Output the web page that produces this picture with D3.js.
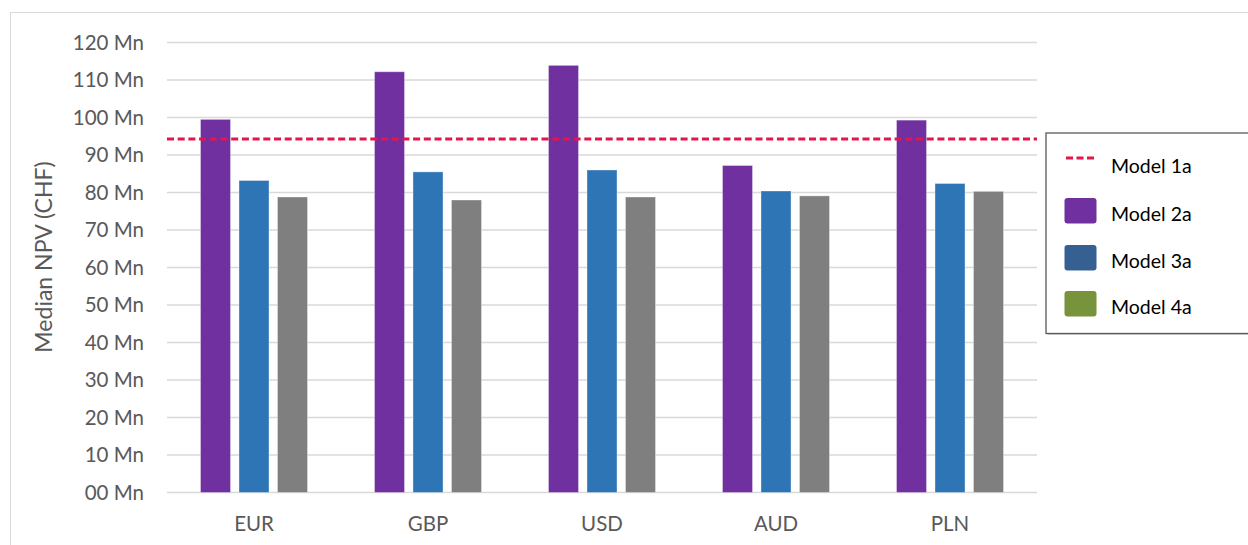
<!DOCTYPE html>
<html>
<head>
<meta charset="utf-8">
<script src="https://cdn.jsdelivr.net/npm/d3@7/dist/d3.min.js"></script>
<style>
  html, body { margin: 0; padding: 0; background: #fff; }
  svg { display: block; }
  text { font-family: Lato, "Open Sans", sans-serif; }
</style>
</head>
<body>
<svg id="chart" width="1248" height="545"></svg>
<script>
// Median NPV per currency, in CHF millions
const currencies = ["EUR", "GBP", "USD", "AUD", "PLN"];
const seriesNames = ["Model 2a", "Model 3a", "Model 4a"];
const model2a = [99.5, 112.2, 113.9, 87.2, 99.3];
const model3a = [83.2, 85.5, 86.0, 80.4, 82.4];
const model4a = [78.8, 78.0, 78.8, 79.1, 80.3];
const model1aLevel = 94.3;
const yTicks = [0, 10, 20, 30, 40, 50, 60, 70, 80, 90, 100, 110, 120];
const legendNames = ["Model 1a", "Model 2a", "Model 3a", "Model 4a"];

const barColors = ["#7030A0", "#2E75B6", "#7F7F7F"];
const legendColors = ["#7030A0", "#376092", "#77933C"];
const lineColor = "#E2164D";

const seriesValues = [model2a, model3a, model4a];

const svg = d3.select("#chart");

// Outer chart frame
svg.append("rect")
  .attr("x", 10.5).attr("y", 12.5)
  .attr("width", 1300).attr("height", 600)
  .attr("fill", "none").attr("stroke", "#D9D9D9").attr("stroke-width", 1);

const plot = { left: 167, right: 1037, top: 42.5, bottom: 492.5 };

const y = d3.scaleLinear().domain([0, 120]).range([plot.bottom, plot.top]);
const x0 = d3.scaleBand().domain(currencies)
  .range([plot.left, plot.right])
  .paddingInner(0.385).paddingOuter(0.1925);
const x1 = d3.scaleBand().domain(seriesNames)
  .range([0, x0.bandwidth()])
  .paddingInner(0.22);

// Horizontal gridlines
svg.append("g").selectAll("line").data(yTicks).join("line")
  .attr("x1", plot.left).attr("x2", plot.right)
  .attr("y1", d => y(d)).attr("y2", d => y(d))
  .attr("stroke", "#D9D9D9").attr("stroke-width", 1.5);

// Y axis labels
const yAxis = d3.axisLeft(y).tickValues(yTicks)
  .tickFormat(d => d3.format("02d")(d) + " Mn")
  .tickSize(0).tickPadding(0);
const gy = svg.append("g").attr("transform", "translate(144,0)").call(yAxis);
gy.select(".domain").remove();
gy.selectAll("text")
  .attr("fill", "#595959")
  .style("font-size", "20.5px")
  .style("font-family", "Lato, sans-serif");

// Y axis title
svg.append("text")
  .attr("transform", "translate(52,257) rotate(-90)")
  .attr("text-anchor", "middle")
  .attr("fill", "#595959")
  .style("font-size", "23px")
  .text("Median NPV (CHF)");

// Category labels
const xAxis = d3.axisBottom(x0).tickSize(0).tickPadding(0);
const gx = svg.append("g").attr("transform", `translate(0,${plot.bottom})`).call(xAxis);
gx.select(".domain").remove();
gx.selectAll("text")
  .attr("dy", 0).attr("y", 38)
  .attr("fill", "#595959")
  .style("font-size", "20.5px")
  .style("font-family", "Lato, sans-serif");

// Bars
const barData = currencies.flatMap((c, i) =>
  seriesNames.map((s, j) => ({ cur: c, series: s, idx: j, value: seriesValues[j][i] })));

svg.append("g").selectAll("rect").data(barData).join("rect")
  .attr("x", d => x0(d.cur) + x1(d.series))
  .attr("y", d => y(d.value))
  .attr("width", x1.bandwidth())
  .attr("height", d => y(0) - y(d.value))
  .attr("fill", d => barColors[d.idx])
  .attr("stroke", "rgba(255,255,255,0.35)")
  .attr("stroke-width", 1);

// Model 1a reference line
svg.append("line")
  .attr("x1", plot.left).attr("x2", plot.right)
  .attr("y1", y(model1aLevel)).attr("y2", y(model1aLevel))
  .attr("stroke", lineColor).attr("stroke-width", 3)
  .attr("stroke-dasharray", "7,3.7");

// Legend
const legend = svg.append("g");
legend.append("rect")
  .attr("x", 1047.5).attr("y", 134.5).attr("width", 260).attr("height", 200)
  .attr("fill", "#A6A6A6");
legend.append("rect")
  .attr("x", 1046).attr("y", 133).attr("width", 260).attr("height", 200.5)
  .attr("fill", "#fff").attr("stroke", "#595959").attr("stroke-width", 1.3);

const rowY = [166, 214, 261, 307];
const items = legend.selectAll("g.item").data(legendNames).join("g")
  .attr("class", "item")
  .attr("transform", (d, i) => `translate(0,${rowY[i]})`);

items.each(function (d, i) {
  const g = d3.select(this);
  if (i === 0) {
    g.append("line")
      .attr("x1", 1066).attr("x2", 1094).attr("y1", -8).attr("y2", -8)
      .attr("stroke", lineColor).attr("stroke-width", 3)
      .attr("stroke-dasharray", "7,3.5");
  } else {
    g.append("rect")
      .attr("x", 1064.5).attr("y", -16).attr("width", 32).attr("height", 25.5)
      .attr("rx", 3).attr("ry", 3)
      .attr("fill", legendColors[i - 1]);
  }
  g.append("text")
    .attr("x", 1111).attr("y", 7)
    .attr("fill", "#000")
    .style("font-size", "19.5px")
    .text(d);
});
</script>
</body>
</html>
